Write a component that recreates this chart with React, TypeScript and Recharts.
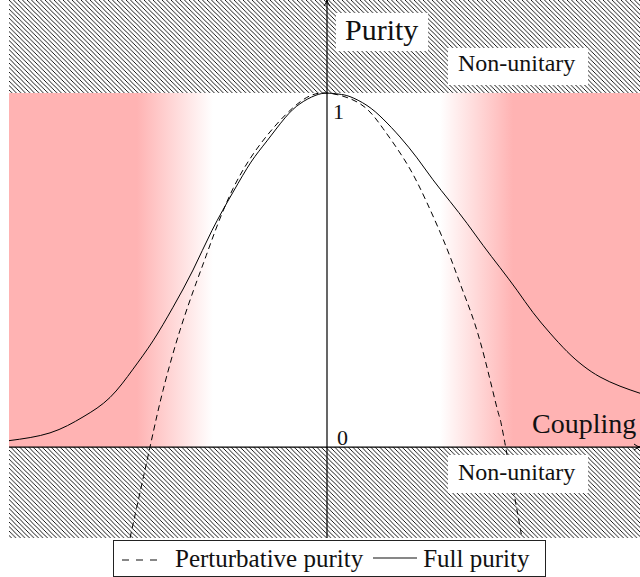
import React from 'react'
import {
  ComposedChart,
  Line,
  XAxis,
  YAxis,
  ReferenceArea,
  ReferenceLine,
  Legend
} from 'recharts'

// coupling values, full purity curve
const fullCoupling = [-3.18, -2.77, -2.44, -2.17, -1.94, -1.74, -1.54, -1.34, -1.15, -0.94, -0.76, -0.6, -0.42, -0.27, -0.12, 0, 0.12, 0.23, 0.4, 0.56, 0.73, 0.9, 1.06, 1.23, 1.4, 1.56, 1.73, 1.9, 2.06, 2.23, 2.4, 2.56, 2.73, 2.93, 3.13]
const fullPurity = [0.018, 0.04, 0.085, 0.14, 0.22, 0.3, 0.395, 0.5, 0.612, 0.72, 0.805, 0.865, 0.93, 0.97, 0.993, 1, 0.997, 0.99, 0.965, 0.927, 0.876, 0.817, 0.755, 0.694, 0.632, 0.57, 0.507, 0.443, 0.38, 0.322, 0.27, 0.23, 0.198, 0.172, 0.152]

// perturbative (dashed) curve
const pertCoupling = [-1.97, -1.77, -1.64, -1.47, -1.3, -1.19, -0.94, -0.6, -0.27, 0, 0.33, 0.56, 0.8, 1.0, 1.2, 1.36, 1.53, 1.7, 1.76, 1.95]
const pertPurity = [-0.257, 0, 0.16, 0.33, 0.47, 0.555, 0.73, 0.88, 0.975, 1, 0.97, 0.9, 0.8, 0.69, 0.56, 0.44, 0.3, 0.11, 0.04, -0.257]

// axis extents and shaded band edges
const couplingRange = [-3.18, 3.13]
const purityRange = [-0.257, 1.263]
const pinkEdges = [-1.9, -1.14, 1.13, 1.86]

const fullData = fullCoupling.map((c, i) => ({ c, p: fullPurity[i] }))
const pertData = pertCoupling.map((c, i) => ({ c, p: pertPurity[i] }))

const PINK = 'rgb(255,179,179)'
const FONT = '"Liberation Serif", serif'

function LegendBox() {
  return (
    <div
      style={{
        display: 'flex',
        alignItems: 'center',
        border: '1.3px solid #222',
        height: 35,
        paddingLeft: 8,
        paddingRight: 16,
        fontFamily: FONT,
        fontSize: 25,
        color: '#111',
        background: '#fff',
        whiteSpace: 'nowrap'
      }}
    >
      <svg width={40} height={10} style={{ marginRight: 13 }}>
        <line x1={0} y1={6} x2={40} y2={6} stroke="#111" strokeWidth={1.2} strokeDasharray="7 7" />
      </svg>
      <span>Perturbative purity</span>
      <svg width={44} height={10} style={{ marginLeft: 10, marginRight: 6 }}>
        <line x1={0} y1={4} x2={44} y2={4} stroke="#111" strokeWidth={1.2} />
      </svg>
      <span>Full purity</span>
    </div>
  )
}

export default function App() {
  return (
    <div style={{ position: 'absolute', left: 0, top: 0, width: 640, height: 577, background: '#fff' }}>
      <ComposedChart width={640} height={577} margin={{ top: 0, right: 0, left: 9, bottom: 39 }}>
        <defs>
          <pattern id="hatch" width={4.5} height={4.5} patternUnits="userSpaceOnUse">
            <path d="M-1,-1 L5.5,5.5 M-1,3.5 L1,5.5 M3.5,-1 L5.5,1" stroke="#000" strokeWidth={0.9} />
          </pattern>
          <linearGradient id="fadeLeft" x1="0" y1="0" x2="1" y2="0">
            <stop offset="0%" stopColor={PINK} />
            <stop offset="100%" stopColor="#fff" />
          </linearGradient>
          <linearGradient id="fadeRight" x1="0" y1="0" x2="1" y2="0">
            <stop offset="0%" stopColor="#fff" />
            <stop offset="100%" stopColor={PINK} />
          </linearGradient>
          <marker id="arrow" markerWidth={10} markerHeight={10} refX={7} refY={4} orient="auto" markerUnits="userSpaceOnUse">
            <path d="M1,1 Q4,3.5 7,4 Q4,4.5 1,7" fill="none" stroke="#000" strokeWidth={1} />
          </marker>
        </defs>
        <XAxis type="number" dataKey="c" domain={couplingRange} allowDataOverflow hide />
        <YAxis type="number" domain={purityRange} allowDataOverflow hide />

        <ReferenceArea x1={couplingRange[0]} x2={couplingRange[1]} y1={1} y2={purityRange[1]} fill="url(#hatch)" fillOpacity={1} stroke="none" />
        <ReferenceArea x1={couplingRange[0]} x2={couplingRange[1]} y1={purityRange[0]} y2={0} fill="url(#hatch)" fillOpacity={1} stroke="none" />
        <ReferenceArea x1={couplingRange[0]} x2={pinkEdges[0]} y1={0} y2={1} fill={PINK} fillOpacity={1} stroke="none" />
        <ReferenceArea x1={pinkEdges[0]} x2={pinkEdges[1]} y1={0} y2={1} fill="url(#fadeLeft)" fillOpacity={1} stroke="none" />
        <ReferenceArea x1={pinkEdges[2]} x2={pinkEdges[3]} y1={0} y2={1} fill="url(#fadeRight)" fillOpacity={1} stroke="none" />
        <ReferenceArea x1={pinkEdges[3]} x2={couplingRange[1]} y1={0} y2={1} fill={PINK} fillOpacity={1} stroke="none" />

        <ReferenceLine x={0} stroke="#000" strokeWidth={1.2} markerEnd="url(#arrow)" />
        <ReferenceLine y={0} stroke="#000" strokeWidth={1.2} markerEnd="url(#arrow)" />

        <Line
          data={pertData}
          dataKey="p"
          type="natural"
          stroke="#000"
          strokeWidth={1}
          strokeDasharray="6 4"
          dot={false}
          isAnimationActive={false}
          name="Perturbative purity"
        />
        <Line
          data={fullData}
          dataKey="p"
          type="natural"
          stroke="#000"
          strokeWidth={1}
          dot={false}
          isAnimationActive={false}
          name="Full purity"
        />
        <Legend
          layout="vertical"
          align="center"
          verticalAlign="middle"
          wrapperStyle={{ left: 113, top: 540, width: 'auto' }}
          content={() => <LegendBox />}
        />
      </ComposedChart>

      <svg width={640} height={577} style={{ position: 'absolute', left: 0, top: 0, pointerEvents: 'none' }}>
        <g fontFamily={FONT} fill="#111">
          <rect x={336} y={13} width={92} height={38} fill="#fff" />
          <text x={345} y={40} fontSize={30}>Purity</text>
          <rect x={448} y={48} width={140} height={37} fill="#fff" />
          <text x={458} y={71} fontSize={24}>Non-unitary</text>
          <rect x={448} y={455} width={140} height={38} fill="#fff" />
          <text x={458} y={480} fontSize={24}>Non-unitary</text>
          <text x={532} y={433} fontSize={28}>Coupling</text>
          <text x={333} y={119} fontSize={22}>1</text>
          <text x={337} y={445} fontSize={22}>0</text>
        </g>
      </svg>
    </div>
  )
}
